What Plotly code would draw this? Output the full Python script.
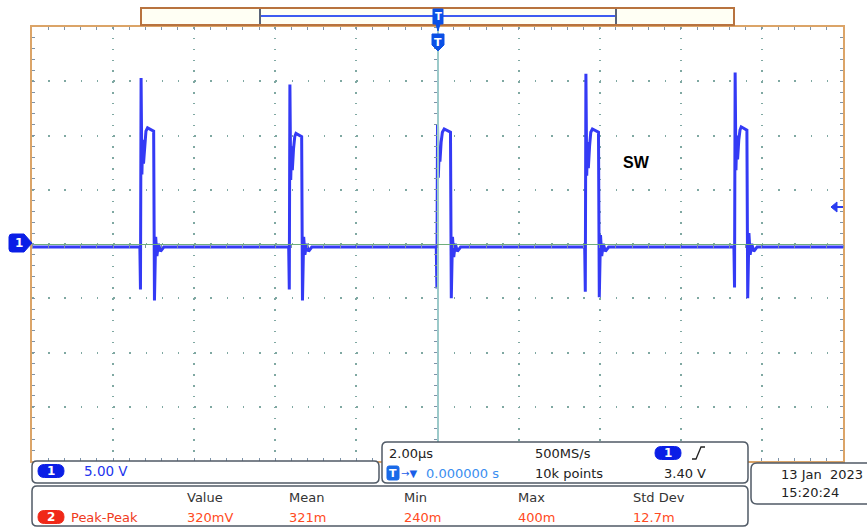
import plotly.graph_objects as go

# ---------------- data ----------------
time_range_us = [-10, 10]          # 10 div x 2.00 us/div
volt_range_v = [-20, 20]           # 8 div x 5.00 V/div
baseline_v = -0.28

rise_us = [-7.31, -3.64, 0.0, 3.66, 7.34]
fall_us = [-6.99, -3.34, 0.33, 3.98, 7.64]
pre_dip_v = [-4.2, -4.2, -4.1, -4.4, -4.0]
spike_v = [15.3, 14.7, 11.0, 15.7, 15.8]
ramp_v = [[6.4, 9.6, 7.4, 9.2],
          [5.9, 9.0, 6.8, 8.8],
          [6.1, 8.4, 7.6, 9.4],
          [6.3, 9.4, 7.0, 9.0],
          [6.8, 10.0, 7.8, 9.6]]
plateau_v = [10.4, 9.9, 10.3, 10.3, 10.5]
post_dip_v = [-5.2, -5.2, -5.0, -4.9, -5.0]
ring_v = [0.65, 0.65, 0.65, 0.83, 1.0]
ring_low_v = [-1.1, -1.0, -1.2, -1.1, -1.0]

channel_scale = "5.00 V"
timebase = "2.00µs"
sample_rate = "500MS/s"
trigger_pos = "0.000000 s"
record_len = "10k points"
trigger_level = "3.40 V"
date_txt = "13 Jan  2023"
time_txt = "15:20:24"
meas_headers = ["Value", "Mean", "Min", "Max", "Std Dev"]
meas_values = ["320mV", "321m", "240m", "400m", "12.7m"]
meas_name = "Peak-Peak"

# ---------------- build trace vertices ----------------
xs = [time_range_us[0]]
ys = [baseline_v]
for i in range(len(rise_us)):
    r, f = rise_us[i], fall_us[i]
    rv = ramp_v[i]
    xs += [r - 0.03, r - 0.015, r, r + 0.02, r + 0.04, r + 0.06, r + 0.09,
           r + 0.12, (r + f) / 2, f - 0.01, f + 0.01, f + 0.04, f + 0.07,
           f + 0.11, f + 0.16, f + 0.24]
    ys += [baseline_v, pre_dip_v[i], spike_v[i], rv[0], rv[1], rv[2], rv[3],
           plateau_v[i], plateau_v[i] + 0.3, plateau_v[i], post_dip_v[i],
           ring_v[i], ring_low_v[i], baseline_v + 0.3, baseline_v - 0.4,
           baseline_v]
xs.append(time_range_us[1])
ys.append(baseline_v)

# ---------------- geometry helpers (pixel -> paper) ----------------
W, H = 867, 527
L, R, T, B = 32, 843, 27, 461


def px(x):
    return (x - L) / (R - L)


def py(y):
    return (B - y) / (B - T)


def P(x, y):
    return f"{px(x):.5f},{py(y):.5f}"


def rr_path(x0, y0, x1, y1, r):
    return (f"M{P(x0 + r, y0)} L{P(x1 - r, y0)} Q{P(x1, y0)} {P(x1, y0 + r)} "
            f"L{P(x1, y1 - r)} Q{P(x1, y1)} {P(x1 - r, y1)} "
            f"L{P(x0 + r, y1)} Q{P(x0, y1)} {P(x0, y1 - r)} "
            f"L{P(x0, y0 + r)} Q{P(x0, y0)} {P(x0 + r, y0)} Z")


shapes = []
annots = []

BOX = "#505a66"
BLUE = "#0a1ee6"


def box(x0, y0, x1, y1, r=5, fill="white", line=BOX, w=1.5):
    shapes.append(dict(type="path", xref="paper", yref="paper",
                       path=rr_path(x0, y0, x1, y1, r), fillcolor=fill,
                       line=dict(color=line, width=w), layer="above"))


def txt(x, y, s, color="#222222", size=13, anchor="left", bold=False,
        family="DejaVu Sans"):
    annots.append(dict(xref="paper", yref="paper", x=px(x), y=py(y),
                       text=f"<b>{s}</b>" if bold else s, showarrow=False,
                       xanchor=anchor, yanchor="middle",
                       font=dict(color=color, size=size, family=family)))


def pill(xc, yc, label, color):
    box(xc - 13, yc - 6.5, xc + 13, yc + 6.5, r=6.5, fill=color, line=color, w=1)
    txt(xc, yc, label, color="white", size=12, anchor="center", bold=True)


# ---- top record-view bar ----
shapes.append(dict(type="rect", xref="paper", yref="paper",
                   x0=px(141), x1=px(734), y0=py(25), y1=py(8),
                   fillcolor="#fffff4", line=dict(color="#b8733f", width=2),
                   layer="above"))
shapes.append(dict(type="line", xref="paper", yref="paper",
                   x0=px(260), x1=px(616), y0=py(16), y1=py(16),
                   line=dict(color="#3f5cf0", width=2), layer="above"))
for xb in (260, 616):
    shapes.append(dict(type="line", xref="paper", yref="paper",
                       x0=px(xb), x1=px(xb), y0=py(9), y1=py(24),
                       line=dict(color="#5a6478", width=2), layer="above"))
# top T badge
shapes.append(dict(type="path", xref="paper", yref="paper",
                   path=f"M{P(433,9)} L{P(443,9)} L{P(443,24)} L{P(440,24)} "
                        f"L{P(438,31)} L{P(436,24)} L{P(433,24)} Z",
                   fillcolor="#0a50e6", line=dict(color="#0a50e6", width=1),
                   layer="above"))
txt(438, 17, "T", color="white", size=10, anchor="center", bold=True)
# trigger position badge
shapes.append(dict(type="path", xref="paper", yref="paper",
                   path=f"M{P(432,34)} L{P(444,34)} L{P(444,45)} L{P(438,51)} "
                        f"L{P(432,45)} Z",
                   fillcolor="#0a50e6", line=dict(color="#0a50e6", width=1),
                   layer="above"))
txt(438, 42, "T", color="white", size=11, anchor="center", bold=True)

# ---- channel 1 ground marker ----
shapes.append(dict(type="path", xref="paper", yref="paper",
                   path=f"M{P(12,234)} L{P(24,234)} L{P(32,243)} L{P(24,252)} "
                        f"L{P(12,252)} Q{P(9,252)} {P(9,249)} L{P(9,237)} "
                        f"Q{P(9,234)} {P(12,234)} Z",
                   fillcolor=BLUE, line=dict(color=BLUE, width=1),
                   layer="above"))
txt(19, 243, "1", color="white", size=12, anchor="center", bold=True)

# ---- trigger level arrow (right) ----
shapes.append(dict(type="path", xref="paper", yref="paper",
                   path=f"M{P(831,207)} L{P(837,202)} L{P(837,212)} Z",
                   fillcolor="#2a3cf0", line=dict(color="#2a3cf0", width=1),
                   layer="above"))
shapes.append(dict(type="line", xref="paper", yref="paper",
                   x0=px(836), x1=px(843), y0=py(207), y1=py(207),
                   line=dict(color="#2a3cf0", width=2), layer="above"))

# ---- SW label ----
txt(621, 162, "SW", color="black", size=16, bold=True,
    family="Liberation Sans, Arial")

# ---- bottom panels ----
box(32, 461, 379, 483)
pill(51, 471, "1", BLUE)
txt(82, 471, channel_scale, color="#2233ee", size=13.5)

box(382, 442, 748, 483)
txt(387, 453, timebase)
txt(533, 453, sample_rate)
pill(668, 453, "1", BLUE)
shapes.append(dict(type="path", xref="paper", yref="paper",
                   path=f"M{P(692,459)} L{P(696,459)} L{P(701,447)} L{P(705,447)}",
                   line=dict(color="#222222", width=1.3), layer="above"))
box(387, 466, 399, 480, r=2, fill="#1a6ae8", line="#1a6ae8", w=1)
txt(393, 473, "T", color="white", size=11, anchor="center", bold=True)
txt(399, 473, "→▼", color="#1a5ee8", size=10)
txt(424, 473, trigger_pos, color="#3a8ef0")
txt(533, 473, record_len)
txt(662, 473, trigger_level)

box(751, 463, 880, 504, r=6)
txt(779, 474, date_txt)
txt(779, 493, time_txt)

box(32, 486, 748, 526)
head_x = [185, 287, 402, 516, 631]
for hx, h, v in zip(head_x, meas_headers, meas_values):
    txt(hx, 497, h, color="#333333")
    txt(hx, 517, v, color="#ff4a22")
pill(51, 517, "2", "#f02818")
txt(69, 517, meas_name, color="#f03a20")

# ---------------- figure ----------------
fig = go.Figure()
fig.add_trace(go.Scatter(x=xs, y=ys, mode="lines",
                         line=dict(color="rgb(52,58,245)", width=3),
                         hoverinfo="skip", showlegend=False))
fig.add_trace(go.Scatter(x=[None], y=[None], xaxis="x2", yaxis="y",
                         mode="none", showlegend=False, hoverinfo="skip"))
fig.add_trace(go.Scatter(x=[None], y=[None], xaxis="x", yaxis="y2",
                         mode="none", showlegend=False, hoverinfo="skip"))

GRID = "#7fa8a2"
TICK = "#7d93a8"
fig.update_layout(
    width=W, height=H, autosize=False,
    margin=dict(l=L, r=W - R, t=T, b=H - B, pad=0),
    paper_bgcolor="white", plot_bgcolor="white",
    font=dict(family="DejaVu Sans", size=13),
    showlegend=False,
    xaxis=dict(range=time_range_us, dtick=2, tick0=0, showgrid=True,
               gridcolor=GRID, gridwidth=1.5, griddash="1.5px,9.35px",
               zeroline=False, showticklabels=False, ticks="inside",
               ticklen=3, tickcolor=TICK, showline=True,
               linecolor="#dba468", linewidth=2, mirror="ticks",
               minor=dict(dtick=0.4, ticks="inside", ticklen=3,
                          tickcolor=TICK, showgrid=False)),
    yaxis=dict(range=volt_range_v, dtick=5, tick0=0, showgrid=True,
               gridcolor=GRID, gridwidth=1.5, griddash="1.5px,14.72px",
               zeroline=False, showticklabels=False, ticks="inside",
               ticklen=3, tickcolor=TICK, showline=True,
               linecolor="#dba468", linewidth=2, mirror="ticks",
               minor=dict(dtick=1, ticks="inside", ticklen=3,
                          tickcolor=TICK, showgrid=False)),
    xaxis2=dict(range=time_range_us, overlaying="x", anchor="free",
                position=0.5, showgrid=False, zeroline=False,
                showticklabels=False, showline=True, linecolor="#6fae7c",
                linewidth=1.2, ticks="outside", ticklen=3, dtick=2,
                tickcolor=TICK,
                minor=dict(dtick=0.4, ticks="outside", ticklen=3,
                           tickcolor=TICK, showgrid=False)),
    yaxis2=dict(range=volt_range_v, overlaying="y", anchor="free",
                position=0.5, showgrid=False, zeroline=False,
                showticklabels=False, showline=True, linecolor="#9ccaca",
                linewidth=2, ticks="outside", ticklen=3, dtick=5,
                tickcolor=TICK,
                minor=dict(dtick=1, ticks="outside", ticklen=3,
                           tickcolor=TICK, showgrid=False)),
    shapes=shapes, annotations=annots,
)

fig.write_html("out.html", config={"displayModeBar": False},
               post_script="document.body.style.margin='0';"
                           "document.body.style.overflow='hidden';")
